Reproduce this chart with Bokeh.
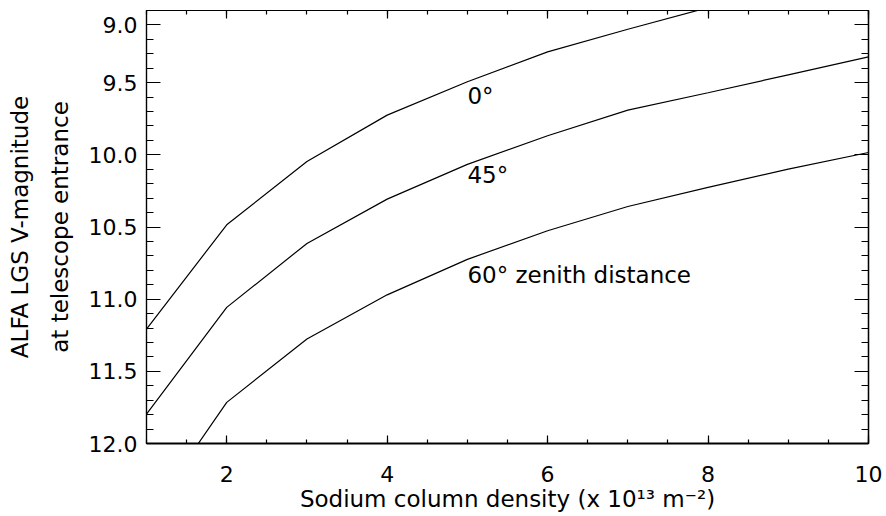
from bokeh.plotting import figure
from bokeh.models import Range1d, LinearAxis, FixedTicker, Label
from bokeh.embed import file_html
from bokeh.resources import INLINE

# ---- data ----
x_density = [1, 2, 3, 4, 5, 6, 7, 8, 9, 10]
mag_0deg = [11.207, 10.485, 10.046, 9.725, 9.494, 9.287, 9.130, 8.980]
mag_45deg = [11.796, 11.057, 10.614, 10.307, 10.066, 9.868, 9.690, 9.570, 9.446, 9.321]
mag_60deg = [12.52, 11.715, 11.276, 10.970, 10.724, 10.526, 10.358, 10.226, 10.099, 9.984]

curve_labels = ["0°", "45°", "60° zenith distance"]
curve_label_y = [9.594, 10.143, 10.835]

x_tick_values = [2, 4, 6, 8, 10]
x_tick_labels = ["2", "4", "6", "8", "10"]
x_minor_values = [1 + 0.5 * i for i in range(19)]

y_tick_values = [9.1, 9.5, 10.0, 10.5, 11.0, 11.5, 12.0]
y_tick_labels = ["9.0", "9.5", "10.0", "10.5", "11.0", "11.5", "12.0"]
y_minor_values = [round(9.1 + 0.1 * i, 1) for i in range(30)]

FONT = "DejaVu Sans"
FS = "22px"
FS_T = "23px"

p = figure(frame_width=722, frame_height=433, output_backend="svg", toolbar_location=None,
           x_range=Range1d(1, 10), y_range=Range1d(12.0, 9.0),
           x_axis_type=None, y_axis_type=None,
           min_border_left=146, min_border_right=18, min_border_top=10, min_border_bottom=73,
           background_fill_color="white", border_fill_color="white")
p.outline_line_color = "black"
p.outline_line_width = 1.2


def style(ax, major, minor):
    ax.axis_line_color = "black"
    ax.axis_line_width = 1.2
    ax.major_tick_in = major
    ax.major_tick_out = 0
    ax.minor_tick_in = minor
    ax.minor_tick_out = 0
    ax.major_tick_line_color = "black"
    ax.minor_tick_line_color = "black"
    ax.major_tick_line_width = 1.2
    ax.minor_tick_line_width = 1.2
    ax.major_label_text_font = FONT
    ax.major_label_text_font_size = FS
    ax.major_label_text_color = "black"
    ax.axis_label_text_font = FONT
    ax.axis_label_text_font_size = FS_T
    ax.axis_label_text_font_style = "normal"
    ax.axis_label_text_color = "black"


# bottom axis with labels
xb = LinearAxis(ticker=FixedTicker(ticks=x_tick_values, minor_ticks=x_minor_values),
                axis_label="Sodium column density (x 10¹³ m⁻²)")
style(xb, 8, 4)
xb.axis_line_width = 2
xb.major_label_overrides = dict(zip(x_tick_values, x_tick_labels))
xb.major_label_standoff = 22
xb.axis_label_standoff = 1
p.add_layout(xb, "below")

# left axis with labels (two-line title split over two axes)
yl = LinearAxis(ticker=FixedTicker(ticks=y_tick_values, minor_ticks=y_minor_values),
                axis_label="at telescope entrance")
style(yl, 14, 7)
yl.major_label_overrides = dict(zip(y_tick_values, y_tick_labels))
yl.major_label_standoff = 9
yl.axis_label_standoff = 13
p.add_layout(yl, "left")

yl2 = LinearAxis(ticker=FixedTicker(ticks=[], minor_ticks=[]), axis_label="ALFA LGS V-magnitude")
style(yl2, 0, 0)
yl2.axis_line_color = None
yl2.major_label_standoff = 0
yl2.axis_label_standoff = 11
p.add_layout(yl2, "left")

# mirrored ticks on top and right (no labels): long and short ticks on separate axes
for loc, long_ticks, short_ticks, L, S in [("above", x_tick_values, x_minor_values, 8, 4),
                                           ("right", y_tick_values, y_minor_values, 14, 7)]:
    for ticks, ln in [(long_ticks, L), (short_ticks, S)]:
        ax = LinearAxis(ticker=FixedTicker(ticks=[], minor_ticks=ticks))
        style(ax, 0, ln)
        ax.major_label_standoff = 0
        p.add_layout(ax, loc)

p.line(x_density[:len(mag_0deg)], mag_0deg, line_color="black", line_width=1.2)
p.line(x_density, mag_45deg, line_color="black", line_width=1.2)
p.line(x_density, mag_60deg, line_color="black", line_width=1.2)

for txt, yy in zip(curve_labels, curve_label_y):
    p.add_layout(Label(x=5.0, y=yy, text=txt, text_font=FONT, text_font_size=FS_T,
                       text_color="black", text_align="left", text_baseline="alphabetic"))

open("out.html", "w").write(file_html(p, INLINE))
